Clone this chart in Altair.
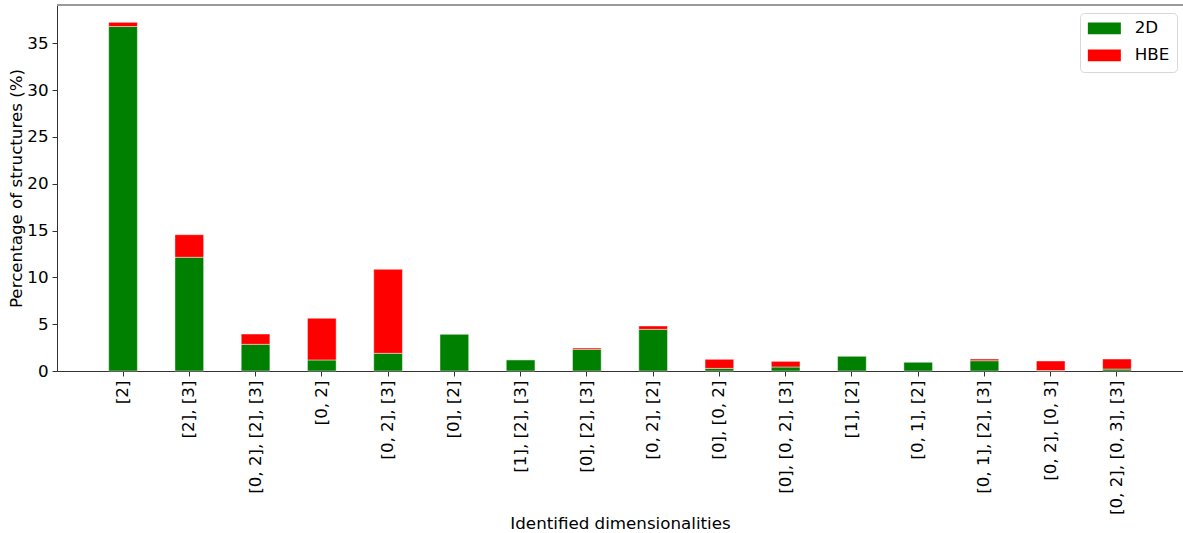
import altair as alt
import pandas as pd

# Identified dimensionality combinations and their share of structures (%)
categories = [
    "[2]", "[2], [3]", "[0, 2], [2], [3]", "[0, 2]", "[0, 2], [3]", "[0], [2]",
    "[1], [2], [3]", "[0], [2], [3]", "[0, 2], [2]", "[0], [0, 2]",
    "[0], [0, 2], [3]", "[1], [2]", "[0, 1], [2]", "[0, 1], [2], [3]",
    "[0, 2], [0, 3]", "[0, 2], [0, 3], [3]",
]
values_2d = [36.8, 12.15, 2.85, 1.18, 1.89, 3.95, 1.21, 2.32, 4.45, 0.28,
             0.43, 1.60, 0.96, 1.10, 0.05, 0.21]
values_hbe = [0.45, 2.41, 1.10, 4.45, 8.97, 0.0, 0.0, 0.14, 0.36, 0.97,
              0.60, 0.0, 0.0, 0.18, 1.02, 1.07]
series = ["2D", "HBE"]
colors = ["#008000", "#ff0000"]
y_ticks = [0, 5, 10, 15, 20, 25, 30, 35]
y_max = 39.1

rows = []
for i, cat in enumerate(categories):
    rows.append({"dims": cat, "kind": "2D", "pct": values_2d[i], "rank": 0})
    rows.append({"dims": cat, "kind": "HBE", "pct": values_hbe[i], "rank": 1})
df = pd.DataFrame(rows)

W, H = 1126, 366
FONT = "DejaVu Sans"
FS = 16.7

bars = alt.Chart(df).mark_bar(
    stroke="white", strokeWidth=1, strokeOpacity=0.45
).encode(
    x=alt.X(
        "dims:N",
        sort=categories,
        title="Identified dimensionalities",
        scale=alt.Scale(paddingInner=0.567, paddingOuter=0.78),
        axis=alt.Axis(
            labelAngle=-90, labelFontSize=FS, labelColor="black",
            labelPadding=4, tickSize=5, tickColor="#333333",
            domainColor="#333333", titleFontSize=FS, titleColor="black",
            titlePadding=1, titleFontWeight="normal", labelLimit=400,
        ),
    ),
    y=alt.Y(
        "pct:Q",
        stack="zero",
        title="Percentage of structures (%)",
        scale=alt.Scale(domain=[0, y_max], nice=False),
        axis=alt.Axis(
            values=y_ticks, grid=False, labelFontSize=FS, labelColor="black",
            labelPadding=4, tickSize=5, tickColor="#333333",
            domainColor="#333333", titleFontSize=FS, titleColor="black",
            titlePadding=1, titleFontWeight="normal",
        ),
    ),
    color=alt.Color(
        "kind:N",
        scale=alt.Scale(domain=series, range=colors),
        legend=alt.Legend(
            title=None, orient="none", legendX=W - 103, legendY=8,
            symbolType="M-2.2,-0.78L2.2,-0.78L2.2,0.78L-2.2,0.78Z",
            symbolSize=225, symbolStrokeWidth=0, symbolOffset=9,
            labelOffset=22, labelFontSize=FS, labelColor="black",
            rowPadding=9, padding=7, strokeColor="#d8d8d8",
            fillColor="white", cornerRadius=4,
        ),
    ),
    order=alt.Order("rank:Q"),
)

top_spine = alt.Chart(df).mark_rule(color="#999999", strokeWidth=1).encode(
    x=alt.value(0), x2=alt.value(W), y=alt.value(0)
)

chart = alt.layer(bars, top_spine).properties(
    width=W, height=H,
    autosize=alt.AutoSizeParams(type="none"),
    padding={"left": 57, "top": 5, "right": 0, "bottom": 162},
).configure_view(stroke=None).configure(font=FONT)

chart.save("out.html", embed_options={"renderer": "svg", "actions": False})
